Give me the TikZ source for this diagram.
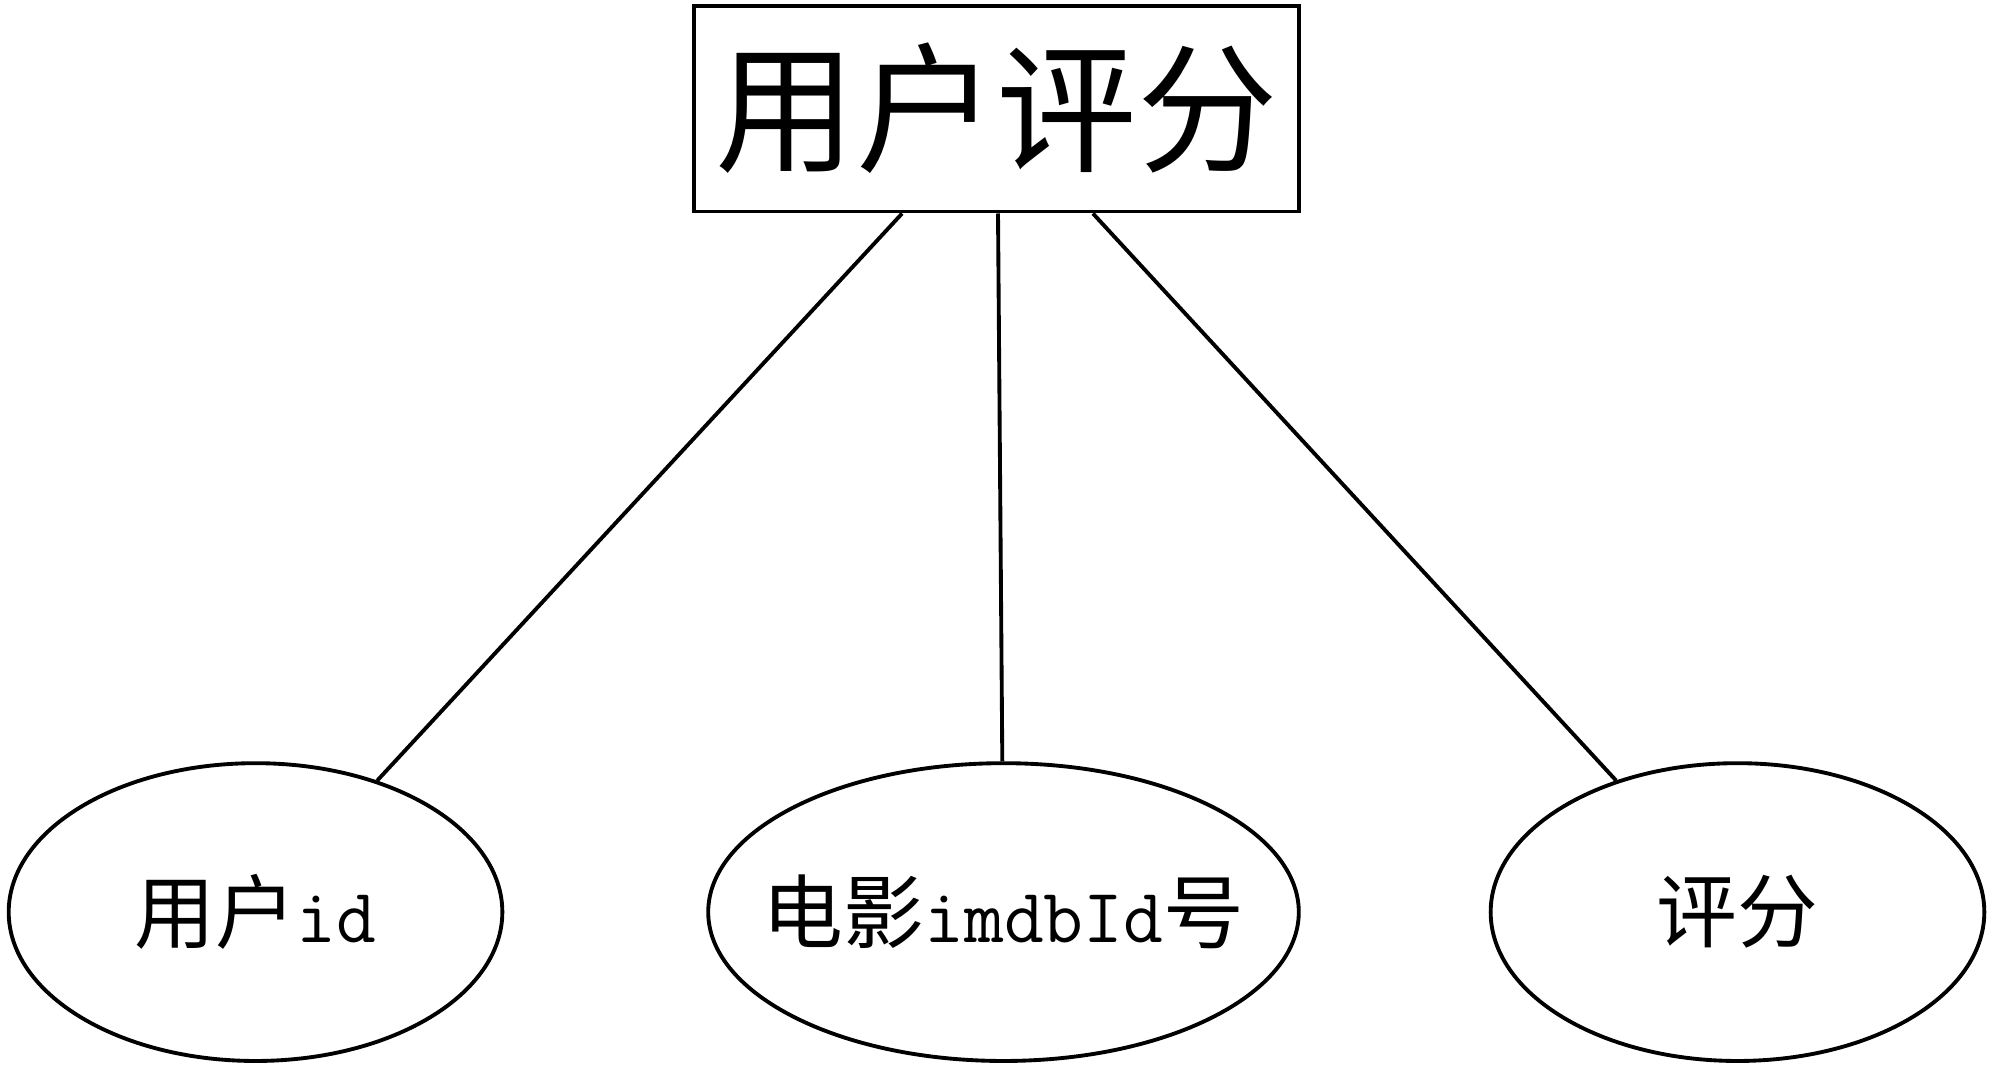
\documentclass[tikz,border=0pt]{standalone}
\usepackage{fontspec}
\usepackage{tikz}
\usetikzlibrary{shapes.geometric}
\setmainfont{Noto Sans CJK SC}
\newcommand{\halfw}[1]{{\fontsize{22}{24}\selectfont\ttfamily #1}}

\begin{document}
\begin{tikzpicture}[scale=1.0,
  entity/.style={draw, line width=1.1pt, rectangle, minimum width=6.05cm,
    minimum height=2.06cm, inner sep=0, font=\fontsize{40}{44}\selectfont},
  attrib/.style={draw, line width=1.1pt, ellipse, minimum height=2.98cm,
    inner ysep=0, inner xsep=-0.6cm, font=\fontsize{23}{26}\selectfont},
  link/.style={line width=1.1pt}]

  \pgfmathsetmacro{\ya}{-9.12};

  \draw[white] (0, 0) rectangle (19.93, -10.68);

  \node[entity] (rating) at (9.965, -1.08) {用户评分};

  \node[attrib, minimum width=4.94cm] (userid) at (2.55, \ya) {用户\halfw{id}};
  \node[attrib, minimum width=5.91cm] (movieid) at (10.035, \ya) {电影\halfw{imdbId}号};
  \node[attrib, minimum width=4.94cm] (score) at (17.38, \ya) {评分};

  \coordinate (rl) at ([xshift=-0.945cm] rating.south);
  \coordinate (rm) at ([xshift=0.015cm] rating.south);
  \coordinate (rr) at ([xshift=0.965cm] rating.south);

  \draw[link] (rl) -- (userid);
  \draw[link] (rm) -- (movieid);
  \draw[link] (rr) -- (score);

\end{tikzpicture}
\end{document}
